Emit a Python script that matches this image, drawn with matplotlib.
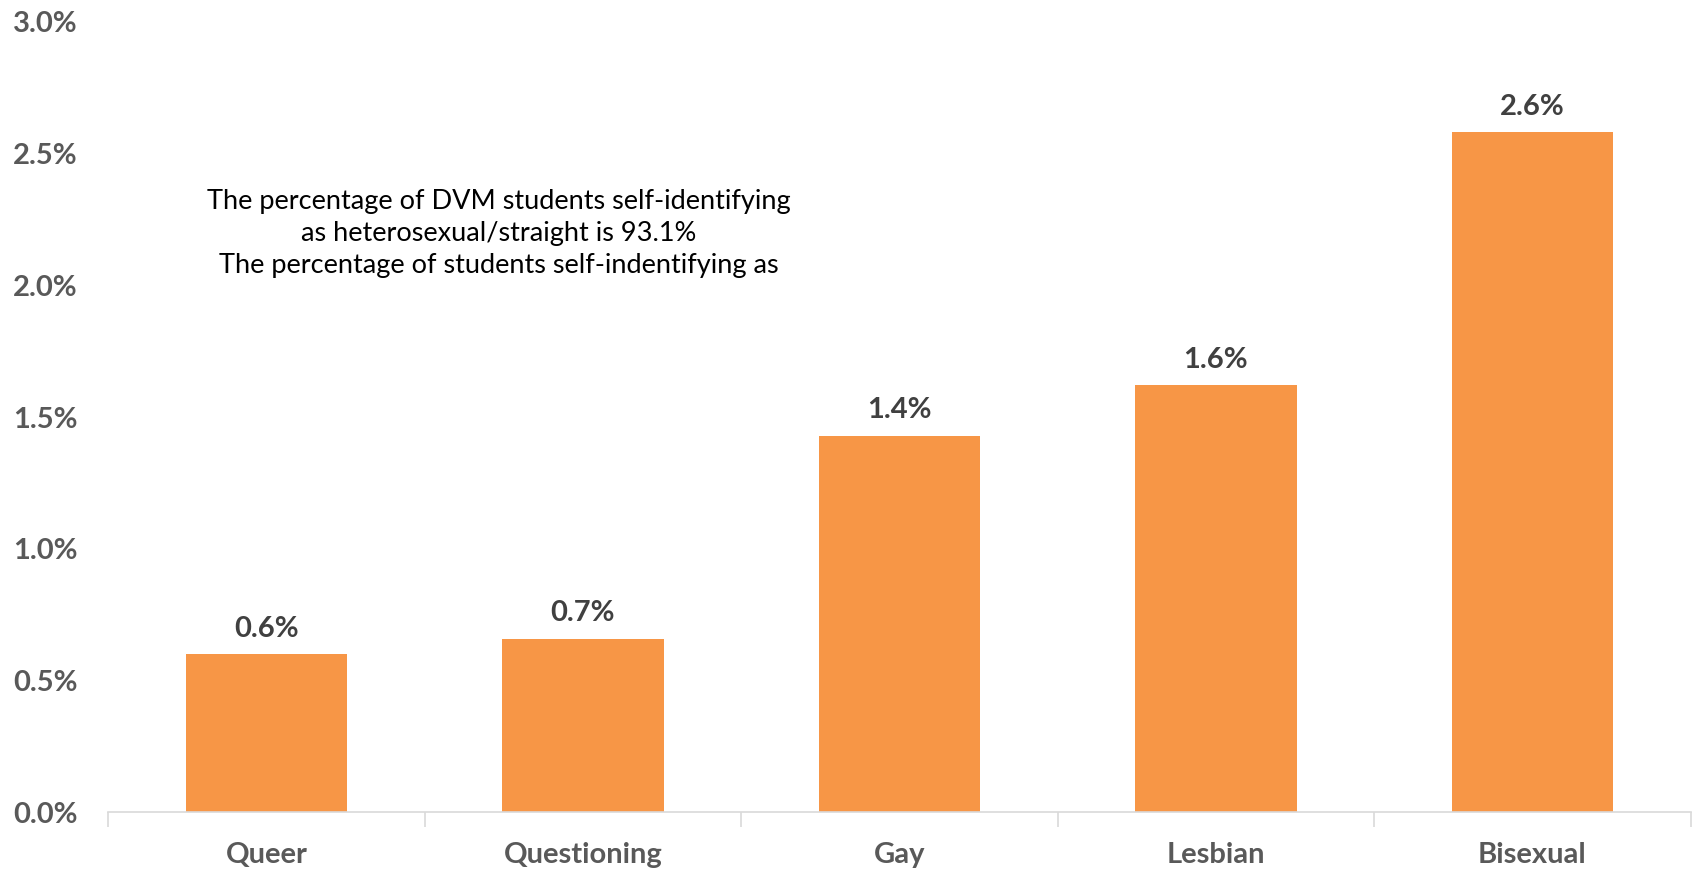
import matplotlib
matplotlib.use("Agg")
import matplotlib.pyplot as plt
import numpy as np

categories = ["Queer", "Questioning", "Gay", "Lesbian", "Bisexual"]
values = [0.60, 0.66, 1.43, 1.62, 2.58]
ytick_values = [0.0, 0.5, 1.0, 1.5, 2.0, 2.5, 3.0]
note = ("The percentage of DVM students self-identifying\n"
        "as heterosexual/straight is 93.1%\n"
        "The percentage of students self-indentifying as")

plt.rcParams['font.family'] = ['Lato', 'DejaVu Sans']

fig = plt.figure(figsize=(16.94, 8.71), dpi=100)
ax = fig.add_axes([0.0638, 0.0672, 0.998 - 0.0638, 0.975 - 0.0672])

x = np.arange(len(categories))
bars = ax.bar(x, values, width=0.51, color="#F79646", zorder=2)

for xi, v in zip(x, values):
    ax.annotate(f"{v:.1f}%", (xi, v), xytext=(0, 9), textcoords="offset points",
                ha="center", va="bottom", fontsize=21, fontweight="bold", color="#404040")

ax.set_xlim(-0.5, len(categories) - 0.5)
ax.set_ylim(0, 3.0)
ax.set_yticks(ytick_values)
ax.set_yticklabels([f"{t:.1f}%" for t in ytick_values])
ax.set_xticks(x)
ax.set_xticklabels(categories)
ax.set_xticks(np.arange(-0.5, len(categories)), minor=True)

ax.tick_params(axis="y", length=0, pad=22, labelsize=21, labelcolor="#595959")
ax.tick_params(axis="x", which="major", length=0, pad=21, labelsize=21, labelcolor="#595959")
ax.tick_params(axis="x", which="minor", length=11, width=1.2, color="#D9D9D9")
for lab in ax.get_yticklabels() + ax.get_xticklabels():
    lab.set_fontweight("bold")

for s in ["top", "right", "left"]:
    ax.spines[s].set_visible(False)
ax.spines["bottom"].set_color("#D9D9D9")
ax.spines["bottom"].set_linewidth(1.2)

ax.text(0.247, 0.732, note, transform=ax.transAxes, ha="center", va="center",
        multialignment="center", fontsize=19.5, color="#000000", linespacing=1.35)

fig.savefig("out.png", dpi=100)
